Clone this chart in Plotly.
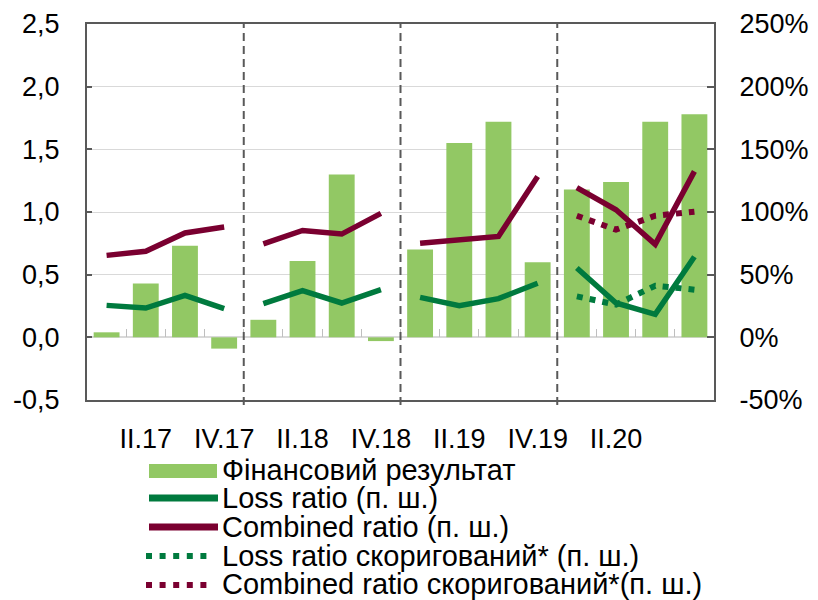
import plotly.graph_objects as go

# ---------------- data ----------------
quarters = ["I.17", "II.17", "III.17", "IV.17",
            "I.18", "II.18", "III.18", "IV.18",
            "I.19", "II.19", "III.19", "IV.19",
            "I.20", "II.20", "III.20", "IV.20"]
tick_labels = ["II.17", "IV.17", "II.18", "IV.18", "II.19", "IV.19", "II.20"]

fin_result = [0.04, 0.43, 0.73, -0.09,
              0.14, 0.61, 1.30, -0.03,
              0.70, 1.55, 1.72, 0.60,
              1.18, 1.24, 1.72, 1.78]
loss_ratio = [25.5, 23.4, 33.5, 22.9,
              26.9, 37.2, 27.4, 38.0,
              31.9, 25.3, 30.9, 43.1,
              55.3, 27.4, 18.4, 64.3]
combined_ratio = [65.4, 68.6, 83.3, 88.0,
                  74.5, 85.3, 82.4, 98.9,
                  75.0, 77.9, 80.5, 128.4,
                  119.4, 101.8, 74.2, 132.4]
loss_ratio_adj = [None] * 12 + [32.7, 26.1, 41.2, 38.0]
combined_ratio_adj = [None] * 12 + [97.0, 85.9, 97.0, 100.2]

left_ticks = [-0.5, 0.0, 0.5, 1.0, 1.5, 2.0, 2.5]
left_tick_text = ["-0,5", "0,0", "0,5", "1,0", "1,5", "2,0", "2,5"]
right_ticks = [-50, 0, 50, 100, 150, 200, 250]
right_tick_text = ["-50%", "0%", "50%", "100%", "150%", "200%", "250%"]

legend_names = ["Фінансовий результат",
                "Loss ratio (п. ш.)",
                "Combined ratio (п. ш.)",
                "Loss ratio скоригований* (п. ш.)",
                "Combined ratio скоригований*(п. ш.)"]

# ---------------- styles ----------------
BAR = "#92C864"
LOSS = "#007A3E"
COMB = "#7A0030"
FRAME = "#595959"
GRID = "#D9D9D9"
FONT = "Liberation Sans, Arial, sans-serif"
FS = 27
LFS = 29

# page offset (default body margin of the html page)
OFF = 8
W, H = 818 - OFF, 600 - OFF
# plot area in page pixels: x 87..714, y 24..400
PL, PR, PT, PB = 87, 714, 24, 400
L, R, T, B = PL - OFF, W - (PR - OFF), PT - OFF, H - (PB - OFF)
PW, PH = PR - PL, PB - PT


def px(xp):
    return (xp - PL) / PW


def py(yp):
    return (PB - yp) / PH


fig = go.Figure()

fig.add_trace(go.Bar(x=quarters, y=fin_result, marker_color=BAR,
                     marker_line_width=0, showlegend=False, yaxis="y"))

years = 4
for g in range(years):
    sl = slice(4 * g, 4 * g + 4)
    xs = quarters[sl]
    fig.add_trace(go.Scatter(x=xs, y=loss_ratio[sl], mode="lines", yaxis="y2",
                             line=dict(color=LOSS, width=5.5), showlegend=False))
    fig.add_trace(go.Scatter(x=xs, y=combined_ratio[sl], mode="lines", yaxis="y2",
                             line=dict(color=COMB, width=5.5), showlegend=False))
    if any(v is not None for v in loss_ratio_adj[sl]):
        fig.add_trace(go.Scatter(x=xs, y=loss_ratio_adj[sl], mode="lines", yaxis="y2",
                                 line=dict(color=LOSS, width=6, dash="6px,7px"),
                                 showlegend=False))
    if any(v is not None for v in combined_ratio_adj[sl]):
        fig.add_trace(go.Scatter(x=xs, y=combined_ratio_adj[sl], mode="lines", yaxis="y2",
                                 line=dict(color=COMB, width=6, dash="6px,7px"),
                                 showlegend=False))

shapes = []
# dashed year separators
for g in range(1, years):
    shapes.append(dict(type="line", xref="x", yref="paper",
                       x0=4 * g - 0.5, x1=4 * g - 0.5, y0=py(405), y1=1,
                       line=dict(color=FRAME, width=2, dash="8px,5px"), layer="above"))

# manual legend
shapes.append(dict(type="rect", xref="paper", yref="paper",
                   x0=px(149), x1=px(217), y0=py(478), y1=py(464),
                   fillcolor=BAR, line=dict(width=0)))
shapes.append(dict(type="line", xref="paper", yref="paper",
                   x0=px(149), x1=px(218), y0=py(498), y1=py(498),
                   line=dict(color=LOSS, width=7)))
shapes.append(dict(type="line", xref="paper", yref="paper",
                   x0=px(149), x1=px(218), y0=py(527), y1=py(527),
                   line=dict(color=COMB, width=7)))
shapes.append(dict(type="line", xref="paper", yref="paper",
                   x0=px(146), x1=px(208), y0=py(556), y1=py(556),
                   line=dict(color=LOSS, width=6, dash="6px,7.6px")))
shapes.append(dict(type="line", xref="paper", yref="paper",
                   x0=px(146), x1=px(208), y0=py(585), y1=py(585),
                   line=dict(color=COMB, width=6, dash="6px,7.6px")))

annotations = []
leg_y = [470, 498, 527, 556, 584]
for name, yy in zip(legend_names, leg_y):
    annotations.append(dict(text=name, xref="paper", yref="paper",
                            x=px(221), y=py(yy), xanchor="left", yanchor="middle",
                            showarrow=False, borderpad=0,
                            font=dict(family=FONT, size=LFS, color="black")))

fig.update_layout(
    width=W, height=H,
    margin=dict(l=L, r=R, t=T, b=B, autoexpand=False),
    paper_bgcolor="white", plot_bgcolor="white",
    bargap=0.34,
    showlegend=False,
    font=dict(family=FONT, size=FS, color="black"),
    xaxis=dict(type="category", categoryorder="array", categoryarray=quarters,
               range=[-0.5, 15.5], tickmode="array", tickvals=tick_labels,
               ticktext=tick_labels, ticks="", showgrid=False, automargin=False,
               showline=True, mirror=True, linecolor=FRAME, linewidth=2,
               ticklabelstandoff=14, tickfont=dict(size=FS)),
    xaxis2=dict(overlaying="x", anchor="free", position=1 / 6, side="bottom",
                type="linear", range=[-0.5, 15.5], tickmode="array",
                tickvals=[i + 0.5 for i in range(15)], ticks="inside", ticklen=8,
                tickcolor="#BFBFBF", tickwidth=1, showticklabels=False,
                showgrid=False, showline=False, zeroline=False, automargin=False),
    yaxis=dict(range=[-0.5, 2.5], tickmode="array", tickvals=left_ticks,
               ticktext=left_tick_text, ticks="inside", ticklen=5, tickcolor=FRAME,
               tickwidth=1.5, automargin=False,
               showgrid=True, gridcolor=GRID, gridwidth=1.3,
               zeroline=True, zerolinecolor=GRID, zerolinewidth=1.5,
               showline=True, mirror=True, linecolor=FRAME, linewidth=2,
               ticklabelstandoff=20, tickfont=dict(size=FS)),
    yaxis2=dict(range=[-50, 250], overlaying="y", side="right", tickmode="array",
                tickvals=right_ticks, ticktext=right_tick_text, ticks="inside",
                ticklen=7, tickcolor=FRAME, tickwidth=1.5, showgrid=False,
                zeroline=False, showline=True, linecolor=FRAME, linewidth=2,
                automargin=False,
                ticklabelstandoff=18, tickfont=dict(size=FS)),
    shapes=shapes,
    annotations=annotations,
)

# invisible trace to activate the zero-line tick axis
fig.add_trace(go.Scatter(x=[None], y=[None], xaxis="x2", yaxis="y",
                         showlegend=False, hoverinfo="skip"))

fig.write_html("out.html")
